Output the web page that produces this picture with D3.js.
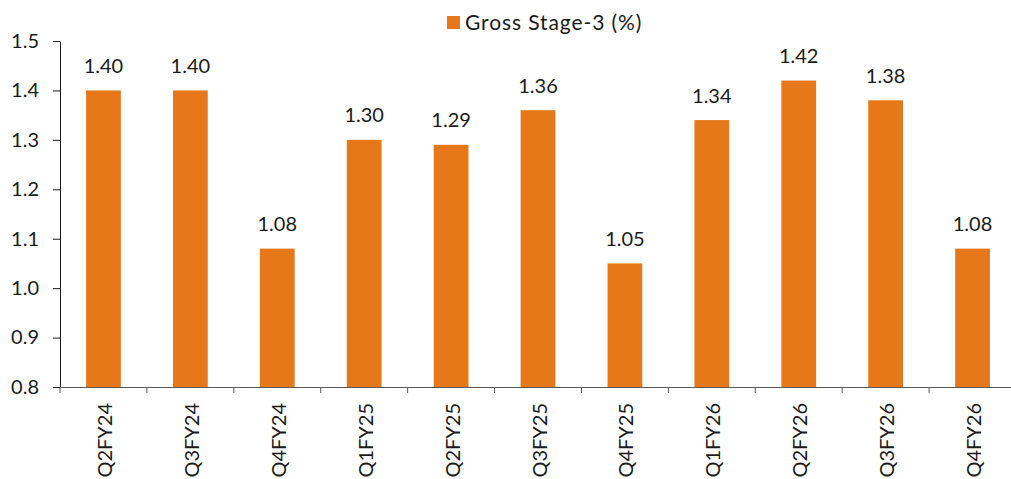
<!DOCTYPE html>
<html><head><meta charset="utf-8">
<script src="https://cdn.jsdelivr.net/npm/d3@7"></script>
<style>body{margin:0;background:#fff}svg{display:block}text{font-family:Lato,"Open Sans",sans-serif;fill:#1a1a1a}</style>
</head><body>
<svg id="c" width="1011" height="479"></svg>
<script>
const categories = ["Q2FY24","Q3FY24","Q4FY24","Q1FY25","Q2FY25","Q3FY25","Q4FY25","Q1FY26","Q2FY26","Q3FY26","Q4FY26"];
const grossStage3 = [1.40,1.40,1.08,1.30,1.29,1.36,1.05,1.34,1.42,1.38,1.08];
const yTicks = [0.8,0.9,1.0,1.1,1.2,1.3,1.4,1.5];
const seriesName = "Gross Stage-3 (%)";

const svg = d3.select("#c");
const color = "#E6781A";
const fs = "20px";
const x = d3.scaleBand().domain(categories).range([60,1016]).paddingInner(0.6).paddingOuter(0.3);
const y = d3.scaleLinear().domain([0.8,1.5]).range([387,41]);

// bars
svg.selectAll("rect.bar").data(grossStage3).join("rect")
  .attr("class","bar")
  .attr("x",(d,i)=>x(categories[i]))
  .attr("width",x.bandwidth())
  .attr("y",d=>y(d))
  .attr("height",d=>y(0.8)-y(d))
  .attr("fill",color);

// labels
svg.selectAll("text.lbl").data(grossStage3).join("text")
  .attr("class","lbl")
  .attr("x",(d,i)=>x(categories[i])+x.bandwidth()/2)
  .attr("y",d=>y(d)-17.5)
  .attr("text-anchor","middle")
  .style("font-size",fs)
  .text(d=>d.toFixed(2));

// y axis
const ya = svg.append("g").attr("transform","translate(60,0)")
  .call(d3.axisLeft(y).tickValues(yTicks).tickFormat(d3.format(".1f")).tickSize(7).tickSizeOuter(0).tickPadding(14));
ya.selectAll("path,line").attr("stroke","#1a1a1a");
ya.selectAll("text").style("font-size",fs).attr("fill","#1a1a1a");

// x axis
const xa = svg.append("g").attr("transform","translate(0,387)")
  .call(d3.axisBottom(x).tickSize(0).tickSizeOuter(0));
xa.select("path").attr("stroke","#595959").attr("d","M60,0.5H1016");
xa.selectAll("text")
  .style("font-size",fs).attr("fill","#1a1a1a")
  .attr("transform","rotate(-90)")
  .attr("text-anchor","end")
  .attr("x",-16).attr("y",1.5).attr("dy","0.35em");
// boundary ticks
const step = x.step();
const bounds = [x(categories[0]) - step*x.paddingOuter()].concat(categories.map(c=>x(c)+x.bandwidth()+step*x.paddingInner()/2));
xa.selectAll("line.bt").data(bounds).join("line").attr("class","bt")
  .attr("x1",d=>d).attr("x2",d=>d).attr("y1",0).attr("y2",6).attr("stroke","#595959");

// legend
const lg = svg.append("g");
lg.append("rect").attr("x",447).attr("y",16).attr("width",13).attr("height",13).attr("fill",color);
lg.append("text").attr("x",465).attr("y",29.5).style("font-size","21px").style("letter-spacing","0.9px").text(seriesName);
</script>
</body></html>
